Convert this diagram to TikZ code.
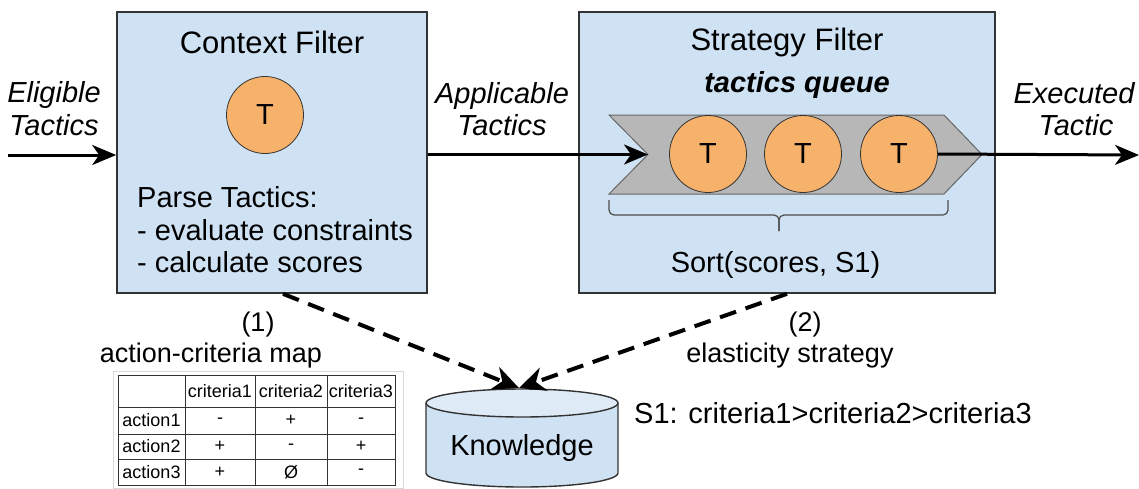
\documentclass[tikz,border=0pt]{standalone}
\usepackage{fontspec}
\setmainfont{Liberation Sans}
\usetikzlibrary{arrows.meta,calc}
\definecolor{boxblue}{HTML}{CFE2F3}
\definecolor{toplight}{HTML}{DEEBF7}
\definecolor{torange}{HTML}{F6B26B}
\definecolor{qgray}{HTML}{B7B7B7}
\definecolor{edgec}{HTML}{333333}
\begin{document}
\begin{tikzpicture}[x=1pt,y=-1pt,
  filterbox/.style={draw=edgec, line width=1.6pt, fill=boxblue, minimum height=281pt, inner sep=0pt},
  tnode/.style={circle, draw=edgec, line width=0.8pt, fill=torange, minimum size=77pt, inner sep=0pt, font=\fontsize{29}{32}\selectfont},
  maintxt/.style={inner sep=0pt, font=\fontsize{29}{33}\selectfont},
  titletxt/.style={inner sep=0pt, font=\fontsize{31}{36}\selectfont},
  lbltxt/.style={inner sep=0pt, font=\fontsize{27}{31}\selectfont},
  flowtxt/.style={inner sep=0pt, font=\fontsize{29}{33}\selectfont\itshape},
  celltxt/.style={inner sep=0pt, font=\fontsize{18}{21}\selectfont},
  flow/.style={line width=3pt, -{Stealth[length=24pt,width=20pt,inset=7pt]}},
  dasharrow/.style={line width=4pt, dash pattern=on 17pt off 10pt, -{Stealth[length=26pt,width=24pt,inset=8pt]}},
  gridline/.style={draw=edgec, line width=1pt}
]
\useasboundingbox (0,0) rectangle (1139,488);

% filter boxes
\node[filterbox, minimum width=310pt] (cf) at (272,152.5) {};
\node[filterbox, minimum width=416pt] (sf) at (787,152.5) {};

% context filter content
\node[titletxt, anchor=base] (ct) at (272,53) {Context Filter};
\node[tnode] (t0) at (265,115) {T};
\node[maintxt, anchor=base west] (p1) at (137,207) {Parse Tactics:};
\node[maintxt, anchor=base west] (p2) at (137,240) {- evaluate constraints};
\node[maintxt, anchor=base west] (p3) at (137,272) {- calculate scores};

% strategy filter content
\node[titletxt, anchor=base] (st) at (787,50) {Strategy Filter};
\node[maintxt, anchor=base, font=\fontsize{29}{33}\selectfont\bfseries\itshape] (tq) at (797,92) {tactics queue};
\draw[fill=qgray, draw=black!60, line width=1pt]
  (609,115) -- (944,115) -- (982,154.5) -- (944,194) -- (609,194) -- (648,154.5) -- cycle;
\coordinate (notch) at (648,154.5);
\node[tnode] (t1) at (708,154) {T};
\node[tnode] (t2) at (803,154) {T};
\node[tnode] (t3) at (899,154) {T};
\draw[draw=black!70, line width=1.2pt, rounded corners=5pt]
  (609,200) -- (609,215) -- (779,215) -- (779,231);
\draw[draw=black!70, line width=1.2pt, rounded corners=5pt]
  (948,200) -- (948,215) -- (779,215) -- (779,231);
\node[maintxt, anchor=base] (sort) at (775.5,272) {Sort(scores, S1)};

% flow labels and arrows
\node[flowtxt, anchor=base] (el1) at (54,102) {Eligible};
\node[flowtxt, anchor=base] (el2) at (54,135) {Tactics};
\node[flowtxt, anchor=base] (ap1) at (502,103) {Applicable};
\node[flowtxt, anchor=base] (ap2) at (502,135) {Tactics};
\node[flowtxt, anchor=base] (ex1) at (1074,103) {Executed};
\node[flowtxt, anchor=base] (ex2) at (1076,135) {Tactic};
\coordinate (in) at (8,155);
\coordinate (out) at (1139,155);
\draw[flow] (in) -- (in -| cf.west);
\draw[flow] (cf.east |- notch) -- (notch);
\draw[flow] (t3.east) -- (out);

% knowledge cylinder
\fill[boxblue] (426,403) -- (426,473) arc[start angle=180, end angle=0, x radius=96, y radius=14] -- (618,403) -- cycle;
\draw[edgec, line width=1.4pt] (426,403) -- (426,473) arc[start angle=180, end angle=0, x radius=96, y radius=14] -- (618,403);
\draw[edgec, line width=1.4pt, fill=toplight] (522,403) ellipse [x radius=96, y radius=14];
\node[maintxt] (kb) at (522,448) {Knowledge};
\coordinate (kbtop) at (519,388);

% dashed connectors and labels
\draw[dasharrow] ([xshift=11pt]cf.south) -- (kbtop);
\draw[dasharrow] (sf.south) -- (kbtop);
\node[lbltxt] (l1a) at (258,325) {(1)};
\node[lbltxt] (l1b) at (211,356) {action-criteria map};
\node[lbltxt] (l2a) at (805,325) {(2)};
\node[lbltxt] (l2b) at (790,356) {elasticity strategy};
\node[maintxt, anchor=base west] (s1) at (634,423) {S1: criteria1>criteria2>criteria3};

% table
\draw[black!15, line width=0.8pt] (113,371) rectangle (403,488);
\draw[gridline] (118,375) rectangle (395,485);
\foreach \yy in {407,434,459} \draw[gridline] (118,\yy) -- (395,\yy);
\foreach \xx in {185,255,327} \draw[gridline] (\xx,375) -- (\xx,485);
\node[celltxt] (h1) at (220,391) {criteria1};
\node[celltxt] (h2) at (291,391) {criteria2};
\node[celltxt] (h3) at (361,391) {criteria3};
\node[celltxt] (r1) at (151.5,420.5) {action1};
\node[celltxt] (r2) at (151.5,446.5) {action2};
\node[celltxt] (r3) at (151.5,472) {action3};
\node[celltxt] (v11) at (220,420.5) {-};
\node[celltxt] (v12) at (291,420.5) {+};
\node[celltxt] (v13) at (361,420.5) {-};
\node[celltxt] (v21) at (220,446.5) {+};
\node[celltxt] (v22) at (291,446.5) {-};
\node[celltxt] (v23) at (361,446.5) {+};
\node[celltxt] (v31) at (220,472) {+};
\node[celltxt] (v32) at (291,472) {Ø};
\node[celltxt] (v33) at (361,472) {-};
\end{tikzpicture}
\end{document}
